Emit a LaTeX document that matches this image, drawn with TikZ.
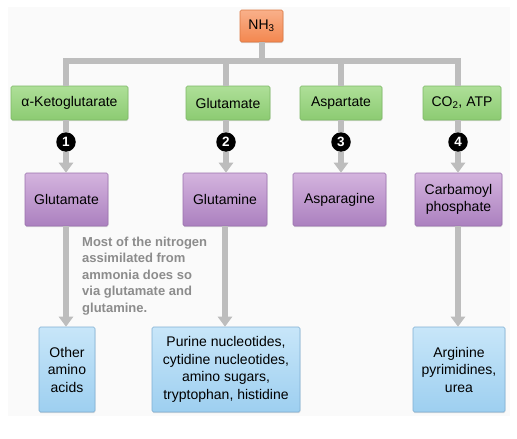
\documentclass[tikz,border=0pt]{standalone}
\usepackage{fontspec}
\setmainfont{Liberation Sans}
\usetikzlibrary{arrows.meta,shadows}
\definecolor{conngray}{HTML}{BDBDBD}
\definecolor{notegray}{HTML}{8C8C8C}
\definecolor{orTop}{HTML}{F9B08A}
\definecolor{orBot}{HTML}{F3874F}
\definecolor{orEdge}{HTML}{DB7842}
\definecolor{grTop}{HTML}{AEDF98}
\definecolor{grBot}{HTML}{8CCB72}
\definecolor{grEdge}{HTML}{7DB866}
\definecolor{puTop}{HTML}{D4B4DE}
\definecolor{puBot}{HTML}{AB80BF}
\definecolor{puEdge}{HTML}{9A71AD}
\definecolor{blTop}{HTML}{C8E6F9}
\definecolor{blBot}{HTML}{9DCFF0}
\definecolor{blEdge}{HTML}{7FAFD3}
\definecolor{panel}{HTML}{FAFAFA}
\tikzset{
  boxbase/.style={rectangle, rounded corners=1.5pt, inner sep=0pt, align=center,
    font=\fontsize{14}{17.5}\selectfont, line width=0.6pt,
    drop shadow={opacity=0.25, shadow xshift=0.4pt, shadow yshift=-1.2pt}},
  orbox/.style={boxbase, top color=orTop, bottom color=orBot, draw=orEdge},
  grbox/.style={boxbase, top color=grTop, bottom color=grBot, draw=grEdge},
  pubox/.style={boxbase, top color=puTop, bottom color=puBot, draw=puEdge},
  blbox/.style={boxbase, top color=blTop, bottom color=blBot, draw=blEdge},
  numdot/.style={circle, fill=black, inner sep=0pt, minimum size=19.5pt,
    text=white, font=\fontsize{13.5}{13.5}\selectfont\bfseries},
  conn/.style={draw=conngray, line width=6pt, line join=miter},
  arr/.style={conn, -{Triangle[width=14pt,length=10pt]}, draw=conngray, fill=conngray},
  note/.style={anchor=north west, align=left, inner sep=0pt, text=notegray,
    font=\fontsize{13}{16.6}\selectfont\bfseries}
}
\begin{document}
\begin{tikzpicture}[x=1pt,y=-1pt]
\useasboundingbox (0,0) rectangle (517,439);
\fill[panel] (8,7) rectangle (510,416);

% nodes
\node[orbox, minimum width=43pt, minimum height=32pt] (nh) at (261.5,26) {NH\textsubscript{3}};

\node[grbox, minimum width=117pt, minimum height=34pt] (k1) at (69.5,103) {α-Ketoglutarate};
\node[grbox, minimum width=84pt, minimum height=34pt] (k2) at (228,103) {Glutamate};
\node[grbox, minimum width=82pt, minimum height=34pt] (k3) at (341,103) {Aspartate};
\node[grbox, minimum width=78pt, minimum height=34pt] (k4) at (462,103) {CO\textsubscript{2}, ATP};

\node[numdot] (c1) at (66,142) {1};
\node[numdot] (c2) at (226,142) {2};
\node[numdot] (c3) at (341,142) {3};
\node[numdot] (c4) at (458,142) {4};

\node[pubox, minimum width=83pt, minimum height=53pt] (p1) at (66.5,199.5) {Glutamate};
\node[pubox, minimum width=84pt, minimum height=53pt] (p2) at (225,199.5) {Glutamine};
\node[pubox, minimum width=93pt, minimum height=53pt] (p3) at (339.5,199.5) {Asparagine};
\node[pubox, minimum width=87pt, minimum height=53pt] (p4) at (458.5,199.5) {Carbamoyl\\phosphate};

\node[blbox, minimum width=56pt, minimum height=85pt] (b1) at (67,369.5) {Other\\amino\\acids};
\node[blbox, minimum width=148pt, minimum height=85pt] (b2) at (226,369.5) {Purine nucleotides,\\cytidine nucleotides,\\amino sugars,\\tryptophan, histidine};
\node[blbox, minimum width=92pt, minimum height=85pt] (b3) at (459,369.5) {Arginine\\pyrimidines,\\urea};

\node[note] (txt) at (82,236.5) {Most of the nitrogen\\assimilated from\\ammonia does so\\via glutamate and\\glutamine.};

\coordinate (bar) at (0,60.5);

% connectors
\draw[conn] (nh.south) -- (nh.south |- bar);
\draw[conn] (c1 |- k1.north) -- (c1 |- bar) -- (c4 |- bar) -- (c4 |- k4.north);
\draw[conn] (c2 |- bar) -- (c2 |- k2.north);
\draw[conn] (c3 |- bar) -- (c3 |- k3.north);

\draw[conn] (c1 |- k1.south) -- (c1.north);
\draw[conn] (c2 |- k2.south) -- (c2.north);
\draw[conn] (c3 |- k3.south) -- (c3.north);
\draw[conn] (c4 |- k4.south) -- (c4.north);

\draw[arr] (c1.south) -- (c1 |- p1.north);
\draw[arr] (c2.south) -- (c2 |- p2.north);
\draw[arr] (c3.south) -- (c3 |- p3.north);
\draw[arr] (c4.south) -- (c4 |- p4.north);

\draw[arr] (c1 |- p1.south) -- (c1 |- b1.north);
\draw[arr] (p2.south) -- (p2.south |- b2.north);
\draw[arr] (c4 |- p4.south) -- (c4 |- b3.north);
\end{tikzpicture}
\end{document}
